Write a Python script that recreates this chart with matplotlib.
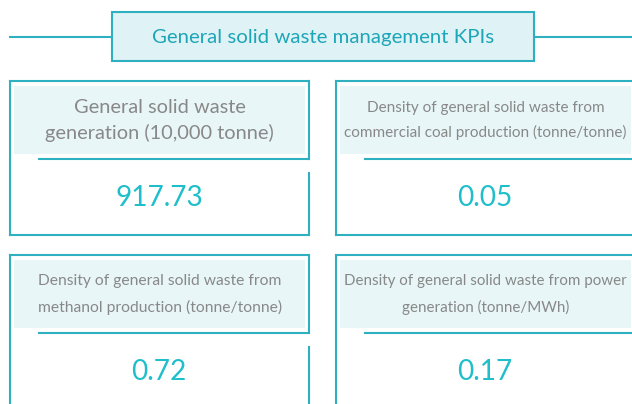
import matplotlib
matplotlib.use("Agg")
import matplotlib.pyplot as plt
from matplotlib.patches import Rectangle

# ---------------- data ----------------
title = "General solid waste management KPIs"
kpi_labels = [
    ["General solid waste", "generation (10,000 tonne)"],
    ["Density of general solid waste from", "commercial coal production (tonne/tonne)"],
    ["Density of general solid waste from", "methanol production (tonne/tonne)"],
    ["Density of general solid waste from power", "generation (tonne/MWh)"],
]
kpi_values = [917.73, 0.05, 0.72, 0.17]

# ---------------- style ----------------
BORDER = "#2fb0c1"
TITLE_TXT = "#1ca6b7"
VALUE_TXT = "#1fbecb"
HEAD_FILL = "#e8f6f8"
TITLE_FILL = "#dff2f5"
HEAD_TXT = "#888888"
FONT = ["Lato", "DejaVu Sans"]
LW = 1.5

W, H = 632, 404
fig = plt.figure(figsize=(W / 100, H / 100), dpi=100)
ax = fig.add_axes([0, 0, 1, 1])
ax.set_xlim(0, W)
ax.set_ylim(H, 0)
ax.axis("off")
renderer = fig.canvas.get_renderer()


def fit(texts, target_w):
    w = max(t.get_window_extent(renderer).width for t in texts)
    for t in texts:
        t.set_fontsize(t.get_fontsize() * target_w / w)


# title banner
ax.plot([9, 112], [36.5, 36.5], color=BORDER, lw=LW, solid_capstyle="butt")
ax.plot([534, W], [36.5, 36.5], color=BORDER, lw=LW, solid_capstyle="butt")
ax.add_patch(Rectangle((112, 12), 422, 49, facecolor=TITLE_FILL, edgecolor=BORDER, lw=LW))
tt = ax.text(323, 37.5, title, ha="center", va="center", color=TITLE_TXT,
             fontsize=16, family=FONT)
fit([tt], 342)

# cards
card_x = [9.5, 335.5, 9.5, 335.5]
card_y = [81, 81, 255, 255]
card_w = 299.5
card_h = 154
head_fit = [230, 281, 243, 281]
head_size = [17, 12, 12, 12]
line_gap = [25, 25, 26.5, 26.5]

value_texts = []
for i, (lab, val) in enumerate(zip(kpi_labels, kpi_values)):
    x0, y0 = card_x[i], card_y[i]
    x1 = x0 + card_w
    y1 = y0 + card_h
    # header fill
    ax.add_patch(Rectangle((x0 + 4.5, y0 + 5), card_w - 9, 67.5, facecolor=HEAD_FILL,
                           edgecolor="none"))
    # borders
    kw = dict(color=BORDER, lw=LW, solid_capstyle="projecting")
    ax.plot([x0, x0], [y0, y1], **kw)          # left
    ax.plot([x0, x1], [y0, y0], **kw)          # top
    ax.plot([x1, x1], [y0, y0 + 78], **kw)     # right upper
    ax.plot([x0 + 29, x1], [y0 + 78, y0 + 78], **kw)  # underline
    ax.plot([x1, x1], [y0 + 92, y1], **kw)     # right lower
    ax.plot([x0, x1], [y1, y1], **kw)          # bottom
    # header text
    cx = x0 + card_w / 2 + 0.5
    cy = y0 + 5 + 67.5 / 2 + 0.5
    g = line_gap[i]
    ts = []
    for k, line in enumerate(lab):
        ts.append(ax.text(cx, cy + (k - 0.5) * g, line, ha="center", va="center",
                          color=HEAD_TXT, fontsize=head_size[i], family=FONT))
    fit(ts, head_fit[i])
    # value
    value_texts.append(ax.text(cx - 0.5, y0 + 117, f"{val:.2f}", ha="center", va="center",
                               color=VALUE_TXT, fontsize=22, family=FONT))

fit([value_texts[0]], 88)
for t in value_texts[1:]:
    t.set_fontsize(value_texts[0].get_fontsize())

fig.savefig("out.png", dpi=100, facecolor="white")
